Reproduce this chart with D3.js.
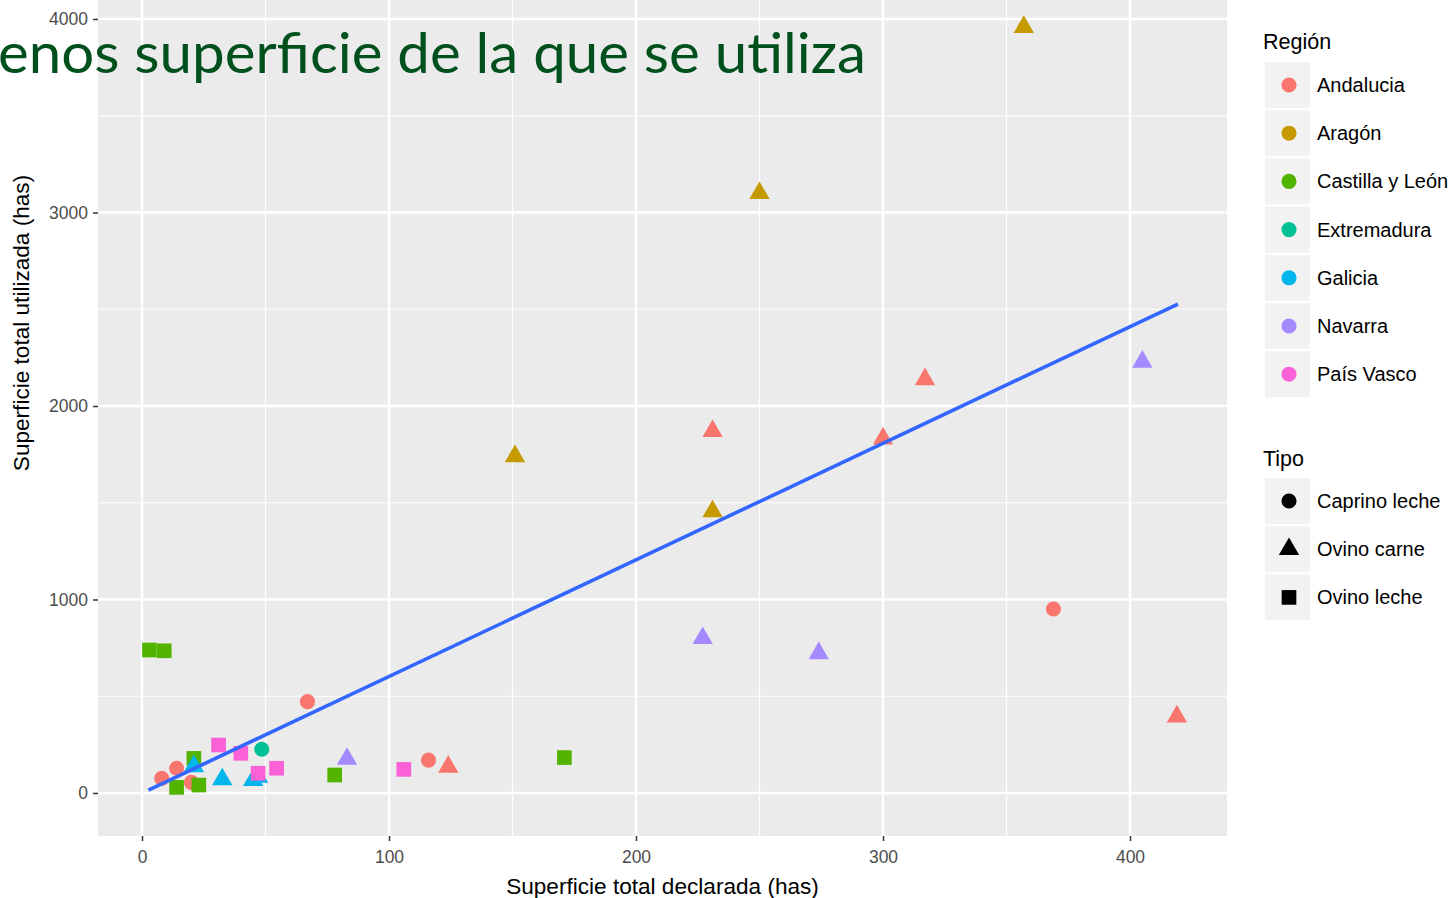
<!DOCTYPE html>
<html>
<head>
<meta charset="utf-8">
<script src="https://cdn.jsdelivr.net/npm/d3@7"></script>
<style>
  html, body { margin: 0; padding: 0; background: #ffffff; }
  svg { display: block; }
</style>
</head>
<body>
<svg id="chart" width="1453" height="898"></svg>
<script>
// ---------- DATA ----------
const regiones = ["Andalucia", "Aragón", "Castilla y León", "Extremadura", "Galicia", "Navarra", "País Vasco"];
const regionColors = ["#F8766D", "#C49A00", "#53B400", "#00C094", "#00B6EB", "#A58AFF", "#FB61D7"];
const tipos = ["Caprino leche", "Ovino carne", "Ovino leche"];

// Superficie total declarada (has)
const declarada = [357, 250, 151, 231, 231, 317, 300, 419, 124, 369, 67, 116, 8, 14, 20, 3, 9, 21, 14, 23, 78, 171, 48.5, 21, 32.5, 45, 47, 227, 274, 405, 83, 31, 40, 47, 54.5, 106];
// Superficie total utilizada (has)
const utilizada = [3958, 3100, 1740, 1455, 1870, 2138, 1832, 395, 135, 951, 472, 170, 76, 128, 55, 739, 735, 179, 29, 41, 93, 183, 226, 138, 70, 66, 83, 800, 722, 2228, 176, 248, 205, 102, 128, 122];
const puntoRegion = ["Aragón","Aragón","Aragón","Aragón","Andalucia","Andalucia","Andalucia","Andalucia","Andalucia","Andalucia","Andalucia","Andalucia","Andalucia","Andalucia","Andalucia","Castilla y León","Castilla y León","Castilla y León","Castilla y León","Castilla y León","Castilla y León","Castilla y León","Extremadura","Galicia","Galicia","Galicia","Galicia","Navarra","Navarra","Navarra","Navarra","País Vasco","País Vasco","País Vasco","País Vasco","País Vasco"];
const puntoTipo = ["Ovino carne","Ovino carne","Ovino carne","Ovino carne","Ovino carne","Ovino carne","Ovino carne","Ovino carne","Ovino carne","Caprino leche","Caprino leche","Caprino leche","Caprino leche","Caprino leche","Caprino leche","Ovino leche","Ovino leche","Ovino leche","Ovino leche","Ovino leche","Ovino leche","Ovino leche","Caprino leche","Ovino carne","Ovino carne","Ovino carne","Ovino carne","Ovino carne","Ovino carne","Ovino carne","Ovino carne","Ovino leche","Ovino leche","Ovino leche","Ovino leche","Ovino leche"];

// Linear fit (geom_smooth lm) endpoints
const trendX = [2.6, 419.4];
const trendY = [15, 2527];

const xTicks = [0, 100, 200, 300, 400];
const xTickLabels = ["0", "100", "200", "300", "400"];
const yTicks = [0, 1000, 2000, 3000, 4000];
const yTickLabels = ["0", "1000", "2000", "3000", "4000"];
const xMinor = [50, 150, 250, 350];
const yMinor = [500, 1500, 2500, 3500];

const titleText = "enos superficie de la que se utiliza";
const xTitle = "Superficie total declarada (has)";
const yTitle = "Superficie total utilizada (has)";

// ---------- LAYOUT ----------
const svg = d3.select("#chart");
const panel = { left: 98, right: 1227, top: -10, bottom: 836 };

const x = d3.scaleLinear().domain([0, 400]).range([142, 1130]);
const y = d3.scaleLinear().domain([0, 4000]).range([793, 19]);
const color = d3.scaleOrdinal().domain(regiones).range(regionColors);
const shapeOf = d3.scaleOrdinal().domain(tipos).range([d3.symbolCircle, d3.symbolTriangle, d3.symbolSquare]);
const sizeOf = d3.scaleOrdinal().domain(tipos).range([180, 180, 215]);
const sym = t => d3.symbol().type(shapeOf(t)).size(sizeOf(t))();

// panel background
svg.append("rect")
  .attr("x", panel.left).attr("y", panel.top)
  .attr("width", panel.right - panel.left).attr("height", panel.bottom - panel.top)
  .attr("fill", "#EBEBEB");

svg.append("clipPath").attr("id", "clip").append("rect")
  .attr("x", panel.left).attr("y", panel.top)
  .attr("width", panel.right - panel.left).attr("height", panel.bottom - panel.top);

const grid = svg.append("g");
grid.selectAll(".vminor").data(xMinor).join("line")
  .attr("x1", d => x(d)).attr("x2", d => x(d))
  .attr("y1", panel.top).attr("y2", panel.bottom)
  .attr("stroke", "#ffffff").attr("stroke-width", 1.2);
grid.selectAll(".hminor").data(yMinor).join("line")
  .attr("y1", d => y(d)).attr("y2", d => y(d))
  .attr("x1", panel.left).attr("x2", panel.right)
  .attr("stroke", "#ffffff").attr("stroke-width", 1.2);
grid.selectAll(".vmajor").data(xTicks).join("line")
  .attr("x1", d => x(d)).attr("x2", d => x(d))
  .attr("y1", panel.top).attr("y2", panel.bottom)
  .attr("stroke", "#ffffff").attr("stroke-width", 2.4);
grid.selectAll(".hmajor").data(yTicks).join("line")
  .attr("y1", d => y(d)).attr("y2", d => y(d))
  .attr("x1", panel.left).attr("x2", panel.right)
  .attr("stroke", "#ffffff").attr("stroke-width", 2.4);

// axes
const xAxis = d3.axisBottom(x).tickValues(xTicks).tickFormat((d, i) => xTickLabels[i]).tickSize(5).tickPadding(10);
const yAxis = d3.axisLeft(y).tickValues(yTicks).tickFormat((d, i) => yTickLabels[i]).tickSize(5).tickPadding(5);

const gx = svg.append("g").attr("transform", `translate(0,${panel.bottom})`).call(xAxis);
const gy = svg.append("g").attr("transform", `translate(${panel.left},0)`).call(yAxis);
[gx, gy].forEach(g => {
  g.select(".domain").remove();
  g.selectAll(".tick line").attr("stroke", "#333333").attr("stroke-width", 1.5);
  g.selectAll(".tick text").attr("fill", "#4D4D4D")
    .style("font-family", "'Liberation Sans', Arial, sans-serif").style("font-size", "17.5px");
});

// axis titles
svg.append("text").attr("x", (panel.left + panel.right) / 2).attr("y", 894)
  .attr("text-anchor", "middle").attr("fill", "#000")
  .style("font-family", "'Liberation Sans', Arial, sans-serif").style("font-size", "22.6px")
  .text(xTitle);
svg.append("text").attr("transform", "translate(29,323) rotate(-90)")
  .attr("text-anchor", "middle").attr("fill", "#000")
  .style("font-family", "'Liberation Sans', Arial, sans-serif").style("font-size", "22.6px")
  .text(yTitle);

// points
const plot = svg.append("g").attr("clip-path", "url(#clip)");
const pts = declarada.map((d, i) => ({ x: d, y: utilizada[i], r: puntoRegion[i], t: puntoTipo[i] }));
plot.selectAll("path.pt").data(pts).join("path")
  .attr("class", "pt")
  .attr("transform", d => `translate(${x(d.x)},${y(d.y)})`)
  .attr("d", d => sym(d.t))
  .attr("fill", d => color(d.r));

// trend line
const trend = trendX.map((d, i) => [d, trendY[i]]);
plot.append("path").datum(trend)
  .attr("d", d3.line().x(d => x(d[0])).y(d => y(d[1])))
  .attr("fill", "none").attr("stroke", "#3366FF").attr("stroke-width", 3.6);

// ---------- LEGENDS ----------
const lgFont = "'Liberation Sans', Arial, sans-serif";
const leg = svg.append("g");
leg.append("text").attr("x", 1263).attr("y", 49).attr("fill", "#000")
  .style("font-family", lgFont).style("font-size", "21.5px").text("Región");
const regRows = leg.selectAll("g.reg").data(regiones).join("g")
  .attr("transform", (d, i) => `translate(0,${85 + i * 48.2})`);
regRows.append("rect").attr("x", 1265).attr("y", -23).attr("width", 45).attr("height", 46).attr("fill", "#F2F2F2");
regRows.append("path").attr("transform", "translate(1289,0)").attr("d", sym("Caprino leche")).attr("fill", d => color(d));
regRows.append("text").attr("x", 1317).attr("y", 7).attr("fill", "#000")
  .style("font-family", lgFont).style("font-size", "20px").text(d => d);

leg.append("text").attr("x", 1263).attr("y", 466).attr("fill", "#000")
  .style("font-family", lgFont).style("font-size", "21.5px").text("Tipo");
const tipoRows = leg.selectAll("g.tipo").data(tipos).join("g")
  .attr("transform", (d, i) => `translate(0,${501 + i * 48.2})`);
tipoRows.append("rect").attr("x", 1265).attr("y", -23).attr("width", 45).attr("height", 46).attr("fill", "#F2F2F2");
tipoRows.append("path").attr("transform", "translate(1289,0)").attr("d", d => sym(d)).attr("fill", "#000");
tipoRows.append("text").attr("x", 1317).attr("y", 7).attr("fill", "#000")
  .style("font-family", lgFont).style("font-size", "20px").text(d => d);

// ---------- OVERLAID SLIDE TITLE ----------
svg.append("text").attr("x", -2).attr("y", 73)
  .attr("fill", "#00501E")
  .attr("textLength", 868).attr("lengthAdjust", "spacingAndGlyphs")
  .style("font-family", "Lato, 'Open Sans', sans-serif").style("font-size", "57px")
  .text(titleText);
</script>
</body>
</html>
